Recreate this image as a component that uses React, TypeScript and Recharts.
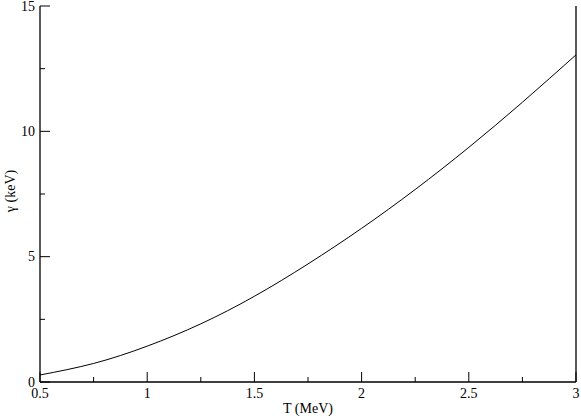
import React from 'react';
import { LineChart, Line, XAxis, YAxis } from 'recharts';

const temperatures = [0.5, 0.75, 1, 1.25, 1.5, 1.75, 2, 2.25, 2.5, 2.75, 3];
const gammaKeV = [0.28, 0.74, 1.43, 2.32, 3.42, 4.71, 6.13, 7.68, 9.36, 11.16, 13.05];
const xTicks = [0.5, 0.75, 1, 1.25, 1.5, 1.75, 2, 2.25, 2.5, 2.75, 3];
const xMajorTicks = [0.5, 1, 1.5, 2, 2.5, 3];
const yTicks = [0, 2.5, 5, 7.5, 10, 12.5, 15];
const yMajorTicks = [0, 5, 10, 15];
const xTitle = 'T (MeV)';
const yTitle = 'γ (keV)';

const data = temperatures.map((t, i) => ({ t, g: gammaKeV[i] }));

const FONT = '"Liberation Serif", "Times New Roman", Times, serif';
const tickStyle = { fontFamily: FONT, fontSize: 14 };
const titleStyle = { fontFamily: FONT, fontSize: 14 };
const MAJOR = 10;
const MINOR = 5;

const BottomTick = (props: any) => {
  const { x, y, payload } = props;
  const major = xMajorTicks.includes(payload.value);
  return (
    <g>
      <line x1={x} x2={x} y1={y} y2={y - (major ? MAJOR : MINOR)} stroke="#000" />
      {major && (
        <text x={x} y={y + 16} textAnchor="middle" style={tickStyle} fill="#000">
          {String(payload.value)}
        </text>
      )}
    </g>
  );
};

const TopTick = (props: any) => {
  const { x, y, payload } = props;
  const major = xMajorTicks.includes(payload.value);
  return <line x1={x} x2={x} y1={y} y2={y + (major ? MAJOR : MINOR)} stroke="#000" />;
};

const LeftTick = (props: any) => {
  const { x, y, payload } = props;
  const major = yMajorTicks.includes(payload.value);
  return (
    <g>
      <line x1={x} x2={x + (major ? MAJOR : MINOR)} y1={y} y2={y} stroke="#000" />
      {major && (
        <text x={x - 5} y={y + 4.5} textAnchor="end" style={tickStyle} fill="#000">
          {String(payload.value)}
        </text>
      )}
    </g>
  );
};

const RightTick = (props: any) => {
  const { x, y, payload } = props;
  const major = yMajorTicks.includes(payload.value);
  return <line x1={x} x2={x - (major ? MAJOR : MINOR)} y1={y} y2={y} stroke="#000" />;
};

const XTitle = (props: any) => {
  const vb = props.viewBox || {};
  const cx = vb.x + vb.width / 2;
  const by = vb.y + vb.height - 5;
  return (
    <text x={cx} y={by} textAnchor="middle" style={titleStyle} fill="#000">
      {xTitle}
    </text>
  );
};

const YTitle = (props: any) => {
  const vb = props.viewBox || {};
  const bx = 15;
  const cy = vb.y + vb.height / 2 - 3;
  return (
    <text x={bx} y={cy} textAnchor="middle" transform={`rotate(-90, ${bx}, ${cy})`} style={titleStyle} fill="#000">
      {yTitle}
    </text>
  );
};

export default function App() {
  return (
    <div style={{ position: 'absolute', left: 0, top: 0, width: 581, height: 418, background: '#fff' }}>
      <LineChart width={581} height={418} data={data} margin={{ top: 6, right: 0, left: 0, bottom: 0 }}>
        <XAxis
          xAxisId="bottom"
          dataKey="t"
          type="number"
          domain={[0.5, 3]}
          ticks={xTicks}
          interval={0}
          height={36}
          tickSize={0}
          tickMargin={0}
          tick={<BottomTick />}
          axisLine={{ stroke: '#000', strokeWidth: 1.3 }}
          tickLine={false}
          label={{ content: <XTitle /> }}
        />
        <XAxis
          xAxisId="top"
          orientation="top"
          dataKey="t"
          type="number"
          domain={[0.5, 3]}
          ticks={xTicks}
          interval={0}
          height={0}
          tickSize={0}
          tickMargin={0}
          tick={<TopTick />}
          axisLine={{ stroke: '#000', strokeWidth: 1.3 }}
          tickLine={false}
        />
        <YAxis
          yAxisId="left"
          type="number"
          domain={[0, 15]}
          ticks={yTicks}
          interval={0}
          width={40}
          tickSize={0}
          tickMargin={0}
          tick={<LeftTick />}
          axisLine={{ stroke: '#000', strokeWidth: 1.3 }}
          tickLine={false}
          label={{ content: <YTitle /> }}
        />
        <YAxis
          yAxisId="right"
          orientation="right"
          type="number"
          domain={[0, 15]}
          ticks={yTicks}
          interval={0}
          width={5}
          tickSize={0}
          tickMargin={0}
          tick={<RightTick />}
          axisLine={{ stroke: '#000', strokeWidth: 1.3 }}
          tickLine={false}
        />
        <Line
          xAxisId="bottom"
          yAxisId="left"
          type="natural"
          dataKey="g"
          stroke="#000"
          strokeWidth={1}
          dot={false}
          isAnimationActive={false}
        />
      </LineChart>
    </div>
  );
}
